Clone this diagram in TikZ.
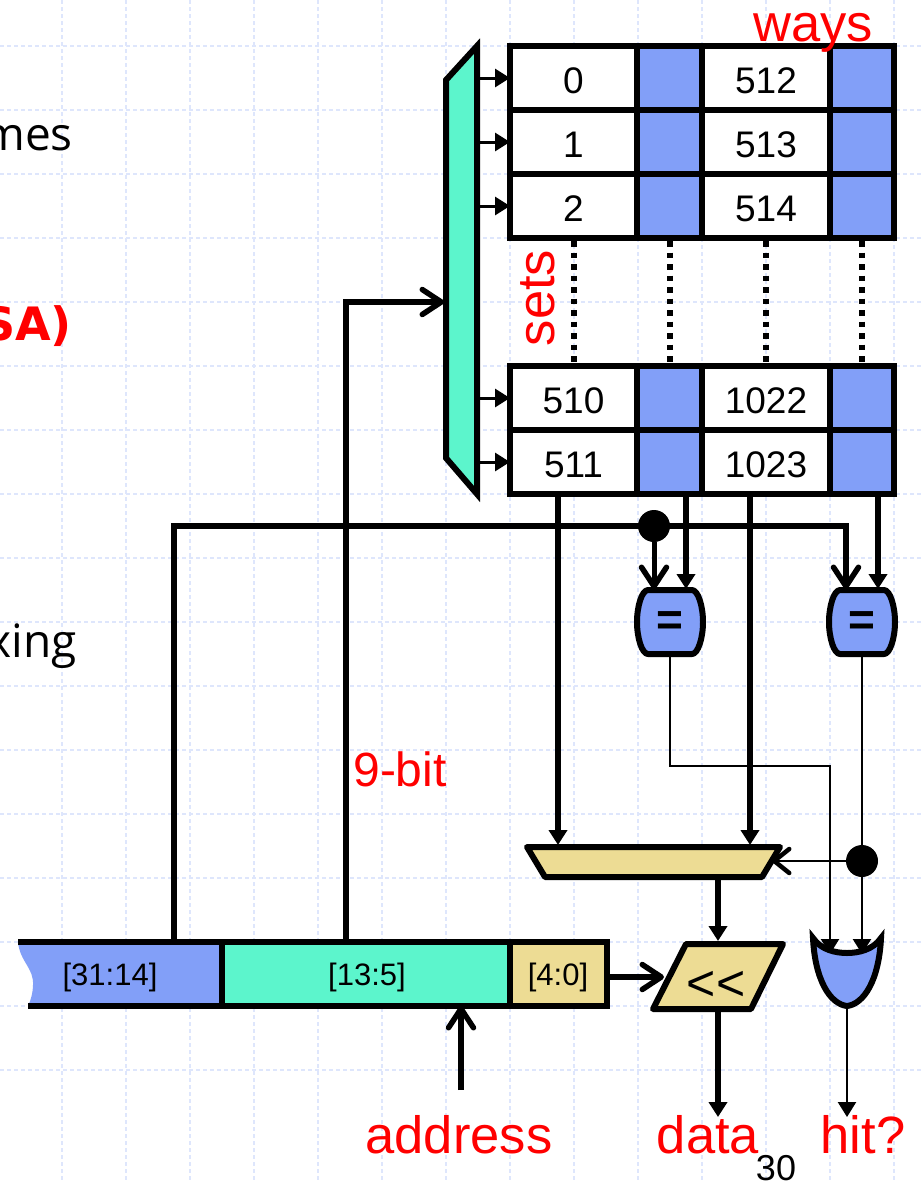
\documentclass[tikz,border=0pt]{standalone}
\usepackage{fontspec}
\setmainfont{Liberation Sans}
\newfontfamily\slidefont{Open Sans}
\newfontfamily\slideboldfont{DejaVu Sans}[BoldFont={DejaVu Sans Bold}]
\usetikzlibrary{arrows.meta}
\definecolor{cblue}{HTML}{829FF8}
\definecolor{cteal}{HTML}{5CF5CC}
\definecolor{cyel}{HTML}{EDDC94}
\definecolor{cgrid}{HTML}{DEE6FC}
\newcommand{\fs}[1]{\fontsize{#1}{#1}\selectfont}
\tikzset{
  x=1pt,y=-1pt,
  gridline/.style={cgrid,line width=1.2pt,dash pattern=on 3.5pt off 3.5pt},
  cellbox/.style={draw=black,line width=6pt,outer sep=0pt,inner sep=0pt,minimum height=64pt,text height=30.6pt,text depth=0pt,font=\fs{37}},
  wcell/.style={cellbox,fill=white,minimum width=127pt},
  wcellb/.style={cellbox,fill=white,minimum width=128pt},
  bcell/.style={cellbox,fill=cblue,minimum width=65pt},
  bcellb/.style={cellbox,fill=cblue,minimum width=64pt},
  field/.style={outer sep=0pt,inner sep=0pt,minimum height=64pt,font=\fs{31}},
  heavy/.style={line width=6pt,draw=black},
  thin wire/.style={line width=2.4pt,draw=black},
  tri/.style={-{Triangle[length=15pt,width=18pt]}},
  barb/.style={-{Straight Barb[length=19pt,width=25pt,round,line width=5.5pt]}},
  dotnode/.style={circle,fill=black,inner sep=0pt,minimum size=32pt,outer sep=0pt},
  redlabel/.style={red,font=\fs{52.5},inner sep=0pt},
  cmpbox/.style={draw=black,line width=6pt,fill=cblue,line join=round},
  eqtext/.style={font=\fs{46}\bfseries,inner sep=0pt},
  dots/.style={line width=6pt,black,dash pattern=on 5.5pt off 6pt},
}
\begin{document}
\begin{tikzpicture}
\useasboundingbox (0,0) rectangle (921,1181);
% slide grid
\foreach \gx in {62,126,...,894} {\draw[gridline] (\gx,0) -- (\gx,1181);}
\foreach \gy in {46,110,...,1070} {\draw[gridline] (0,\gy) -- (921,\gy);}
% clipped slide text
\node[anchor=base east,inner sep=0pt,font=\slidefont\fs{46}] (tmes) at (73,150) {mes};
\node[anchor=base east,inner sep=0pt,red,font=\slideboldfont\fs{46}\bfseries] (tsa) at (72,340) {SA)};
\node[anchor=base east,inner sep=0pt,font=\slidefont\fs{46}] (txing) at (77,657) {xing};
% coordinates
\coordinate (decU) at (477,46);
\coordinate (decD) at (477,494);
\coordinate (idxA) at (346,942);
\coordinate (idxB) at (346,302);
\coordinate (idxC) at (444,302);
\coordinate (tagA) at (174,942);
\coordinate (tagB) at (174,526);
\coordinate (tagC) at (846,526);
\coordinate (tagD) at (846,589);
% wires behind cells
\draw[heavy,barb] (idxA) -- (idxB) -- (idxC);
\draw[heavy,barb] (tagA) -- (tagB) -- (tagC) -- (tagD);
% decoder
\draw[line width=6pt,fill=cteal,line join=miter] (446,80) -- (decU) -- (decD) -- (446,458) -- cycle;
% cache table
\foreach \r/\y/\a/\b in {0/78/0/512,1/142/1/513,2/206/2/514,3/398/510/1022,4/462/511/1023}{
  \node[wcell] (a\r) at (573.5,\y) {\a};
  \node[bcell] (b\r) at (669.5,\y) {};
  \node[wcellb] (c\r) at (766,\y) {\b};
  \node[bcellb] (d\r) at (862,\y) {};
  \coordinate (decA\r) at (479,\y);
  \draw[line width=3pt,tri] (decA\r) -- (a\r.west);
}
% dotted columns
\foreach \c in {a,b,c,d}{ \draw[dots] ([yshift=-3pt]\c2.south) -- (\c3.north); }
% labels
\node[redlabel,anchor=base] (lways) at (813,41) {ways};
\node[redlabel,rotate=90,anchor=base] (lsets) at (554,298) {sets};
\node[red,inner sep=0pt,font=\fs{48},anchor=base] (lnine) at (400,786) {9-bit};
% comparators
\path[cmpbox] (648,590) -- (692,590) .. controls (698,590) and (703,606) .. (703,622) .. controls (703,638) and (698,654) .. (692,654) -- (648,654) .. controls (642,654) and (637,638) .. (637,622) .. controls (637,606) and (642,590) .. (648,590) -- cycle;
\coordinate (eqL) at (670,624);
\node[eqtext] (eq1) at (eqL) {=};
\path[cmpbox] (840,590) -- (884,590) .. controls (890,590) and (895,606) .. (895,622) .. controls (895,638) and (890,654) .. (884,654) -- (840,654) .. controls (834,654) and (829,638) .. (829,622) .. controls (829,606) and (834,590) .. (840,590) -- cycle;
\coordinate (eqR) at (862,624);
\node[eqtext] (eq2) at (eqR) {=};
% tag compare
\node[dotnode] (dotA) at (654,526) {};
\coordinate (cmpAl) at (654,589);
\coordinate (cmpAr) at (686,589);
\coordinate (cmpBr) at (878,589);
\draw[line width=5pt,barb] (dotA) -- (cmpAl);
\draw[heavy,tri] (b4.south -| cmpAr) -- (cmpAr);
\draw[heavy,tri] (d4.south -| cmpBr) -- (cmpBr);
% data mux
\draw[line width=6pt,fill=cyel,line join=round] (527,847) -- (780,847) -- (762,877) -- (545,877) -- cycle;
\coordinate (muxDa) at (558,845);
\coordinate (muxDb) at (750,845);
\coordinate (muxR) at (772,861);
\draw[heavy,tri] (a4.south -| muxDa) -- (muxDa);
\draw[heavy,tri] (c4.south -| muxDb) -- (muxDb);
% hit wires
\coordinate (h1a) at (670,654);
\coordinate (h1b) at (670,766);
\coordinate (h1c) at (830,766);
\coordinate (h1d) at (830,954);
\coordinate (h2a) at (862,654);
\coordinate (h2d) at (862,954);
\draw[thin wire,tri] (h1a) -- (h1b) -- (h1c) -- (h1d);
\draw[thin wire,tri] (h2a) -- (h2d);
\node[dotnode] (dotB) at (862,861) {};
\draw[thin wire,-{Straight Barb[length=15pt,width=24pt,round,line width=4.5pt]}] (dotB) -- (muxR);
% OR gate
\path[draw=black,line width=6pt,fill=cblue,line join=miter]
  (813,938) .. controls (815,980) and (830,1004) .. (847,1006) .. controls (864,1004) and (879,980) .. (881,938)
  .. controls (873,950) and (858,953) .. (847,953) .. controls (836,953) and (821,950) .. (813,938) -- cycle;
\coordinate (orOut) at (847,1008);
\coordinate (hitEnd) at (847,1117);
\draw[thin wire,tri] (orOut) -- (hitEnd);
% address bar
\path[fill=cblue] (18,942) .. controls (20,962) and (34,968) .. (33,985) .. controls (33,992) and (31,1000) .. (28,1006) -- (222,1006) -- (222,942) -- cycle;
\node[inner sep=0pt,font=\fs{31}] (f1) at (110,977) {[31:14]};
\node[field,fill=cteal,minimum width=288pt] (f2) at (366,974) {};
\node[field,fill=cyel,minimum width=97pt] (f3) at (558.5,974) {};
\node[inner sep=0pt,font=\fs{31}] (f2t) at (367,977) {[13:5]};
\node[inner sep=0pt,font=\fs{31}] (f3t) at (558,977) {[4:0]};
\draw[heavy] (18,942) -- (f3.north east) -- (f3.south east) -- (28,1006);
\draw[heavy] (f2.north west) -- (f2.south west);
\draw[heavy] (f2.north east) -- (f2.south east);
% shifter
\draw[line width=6pt,fill=cyel,line join=round] (686,944) -- (783,944) -- (751,1009) -- (653,1009) -- cycle;
\node[inner sep=0pt,font=\fs{50}] (shift) at (716,986) {{<}{<}};
\coordinate (shIn) at (664,977);
\coordinate (shTop) at (718,941);
\coordinate (shBot) at (718,1011);
\coordinate (dataEnd) at (718,1117);
\coordinate (muxBot) at (718,880);
\draw[heavy,barb] (f3.east |- shIn) -- (shIn);
\draw[heavy,tri] (muxBot) -- (shTop);
\draw[heavy,tri] (shBot) -- (dataEnd);
% bottom labels
\node[redlabel,anchor=base] (laddr) at (459,1153) {address};
\node[redlabel,anchor=base] (ldata) at (708,1153) {data};
\node[redlabel,anchor=base] (lhit) at (863,1153) {hit?};
\node[inner sep=0pt,font=\fs{36},anchor=base] (lnum) at (776,1180) {30};
\coordinate (addrStart) at (461,1090);
\draw[heavy,barb] (addrStart) -- (f2.south -| addrStart);
\end{tikzpicture}
\end{document}
